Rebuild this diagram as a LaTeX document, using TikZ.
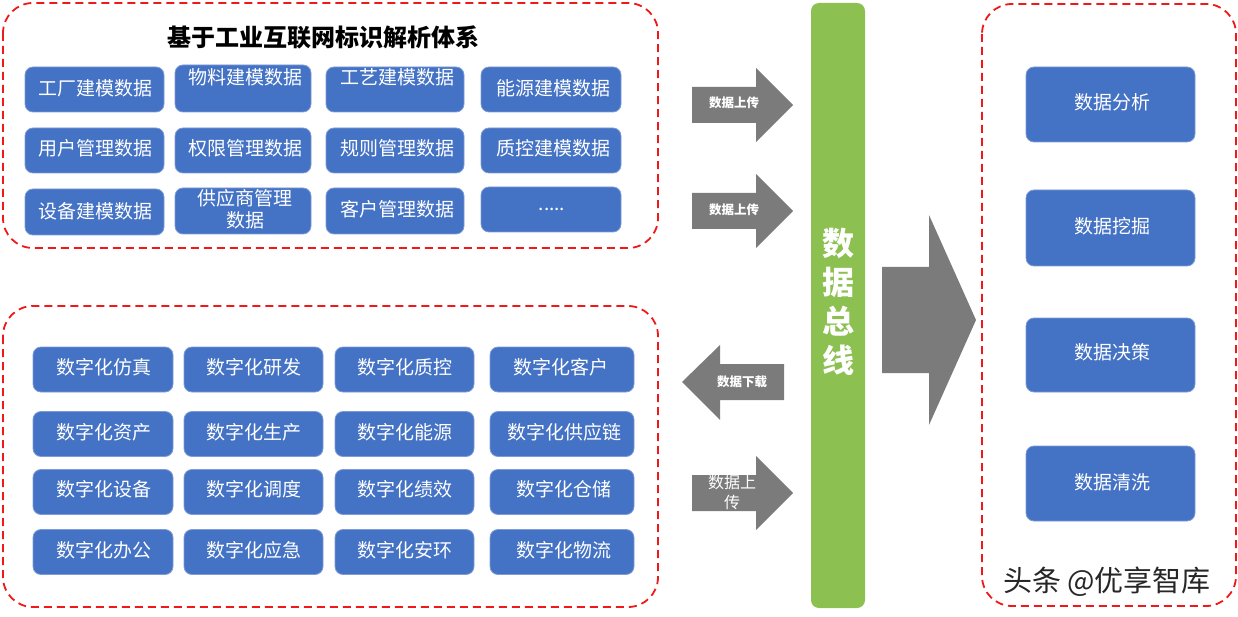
\documentclass[tikz,border=0pt]{standalone}
\usepackage{fontspec}
\newfontfamily\song{Noto Sans CJK SC}
\newfontfamily\cjk{Noto Sans CJK SC}
\definecolor{boxblue}{HTML}{4472C4}
\definecolor{boxedge}{HTML}{7D9BD6}
\definecolor{arrowgray}{HTML}{7B7B7B}
\definecolor{busgreen}{HTML}{8CC151}
\definecolor{dashred}{HTML}{F01818}
\begin{document}
\begin{tikzpicture}[x=1pt,y=-1pt,
  bluebox/.style={draw=boxedge, fill=boxblue, rounded corners=8pt, line width=0.8pt, inner sep=0pt},
  boxtext/.style={text=white, font=\song\fontsize{19}{22}\selectfont, align=center, inner sep=0pt},
  dashbox/.style={draw=dashred, dash pattern=on 8pt off 5pt, line width=1.8pt, rounded corners=30pt},
  grayarrow/.style={fill=arrowgray},
  arrowtext/.style={text=white, font=\cjk\bfseries\fontsize{12.5}{14}\selectfont, inner sep=0pt, align=center}
]
\useasboundingbox (0,0) rectangle (1238,617);

% dashed frames
\draw[dashbox] (3,3) rectangle (658,248);
\draw[dashbox] (3,306) rectangle (658,607);
\draw[dashbox] (982,4) rectangle (1236,606);

% title
\node[font=\song\bfseries\fontsize{24}{28}\selectfont, inner sep=0pt] (title) at (323,37) {基于工业互联网标识解析体系};

% top grid boxes
\node[bluebox, minimum width=139pt, minimum height=45pt] (a11) at (94.5,89.5) {};
\node[bluebox, minimum width=136pt, minimum height=47pt] (a12) at (243,88.5) {};
\node[bluebox, minimum width=138pt, minimum height=45pt] (a13) at (395,89.5) {};
\node[bluebox, minimum width=140pt, minimum height=45pt] (a14) at (551,89.5) {};
\node[bluebox, minimum width=139pt, minimum height=45pt] (a21) at (94.5,150.5) {};
\node[bluebox, minimum width=136pt, minimum height=45pt] (a22) at (243,150.5) {};
\node[bluebox, minimum width=138pt, minimum height=45pt] (a23) at (395,150.5) {};
\node[bluebox, minimum width=140pt, minimum height=45pt] (a24) at (551,150.5) {};
\node[bluebox, minimum width=139pt, minimum height=46pt] (a31) at (94.5,212) {};
\node[bluebox, minimum width=136pt, minimum height=46pt] (a32) at (243,211) {};
\node[bluebox, minimum width=138pt, minimum height=46pt] (a33) at (395,211) {};
\node[bluebox, minimum width=140pt, minimum height=45pt] (a34) at (551,209.5) {};

\node[boxtext] (a11t) at (95,88) {工厂建模数据};
\node[boxtext] (a12t) at (245,77) {物料建模数据};
\node[boxtext] (a13t) at (397,77) {工艺建模数据};
\node[boxtext] (a14t) at (553,88) {能源建模数据};
\node[boxtext] (a21t) at (95,148) {用户管理数据};
\node[boxtext] (a22t) at (245,148) {权限管理数据};
\node[boxtext] (a23t) at (397,148) {规则管理数据};
\node[boxtext] (a24t) at (553,148) {质控建模数据};
\node[boxtext] (a31t) at (95,211) {设备建模数据};
\node[boxtext] (a32t) at (245,209) {供应商管理\\数据};
\node[boxtext] (a33t) at (397,209) {客户管理数据};
\node[boxtext] (a34t) at (552,209) {.....};

% bottom grid boxes
\foreach \r/\cy in {1/369.5,2/434,3/492,4/552}{
  \node[bluebox, minimum width=140pt, minimum height=45pt] (b\r1) at (103,\cy) {};
  \node[bluebox, minimum width=139pt, minimum height=45pt] (b\r2) at (253.5,\cy) {};
  \node[bluebox, minimum width=139pt, minimum height=45pt] (b\r3) at (404.5,\cy) {};
  \node[bluebox, minimum width=144pt, minimum height=45pt] (b\r4) at (562,\cy) {};
}
\node[boxtext] (b11t) at (104,367) {数字化仿真};
\node[boxtext] (b12t) at (254,367) {数字化研发};
\node[boxtext] (b13t) at (405,367) {数字化质控};
\node[boxtext] (b14t) at (561,367) {数字化客户};
\node[boxtext] (b21t) at (104,432) {数字化资产};
\node[boxtext] (b22t) at (254,432) {数字化生产};
\node[boxtext] (b23t) at (405,432) {数字化能源};
\node[boxtext] (b24t) at (564,432) {数字化供应链};
\node[boxtext] (b31t) at (104,489) {数字化设备};
\node[boxtext] (b32t) at (254,489) {数字化调度};
\node[boxtext] (b33t) at (405,489) {数字化绩效};
\node[boxtext] (b34t) at (564,489) {数字化仓储};
\node[boxtext] (b41t) at (104,550) {数字化办公};
\node[boxtext] (b42t) at (254,550) {数字化应急};
\node[boxtext] (b43t) at (405,550) {数字化安环};
\node[boxtext] (b44t) at (564,550) {数字化物流};

% right boxes
\node[bluebox, minimum width=169pt, minimum height=75pt] (c1) at (1110.5,104.5) {};
\node[bluebox, minimum width=169pt, minimum height=76pt] (c2) at (1110.5,228) {};
\node[bluebox, minimum width=169pt, minimum height=74pt] (c3) at (1110.5,355) {};
\node[bluebox, minimum width=169pt, minimum height=75pt] (c4) at (1110.5,483.5) {};
\node[boxtext] (c1t) at (1112,102) {数据分析};
\node[boxtext] (c2t) at (1112,226) {数据挖掘};
\node[boxtext] (c3t) at (1112,352) {数据决策};
\node[boxtext] (c4t) at (1112,482) {数据清洗};

% bus
\node[fill=busgreen, rounded corners=8pt, minimum width=54pt, minimum height=605pt, inner sep=0pt] (bus) at (838,305.5) {};
\node[text=white, font=\song\bfseries\fontsize{32}{39}\selectfont, align=center, inner sep=0pt] (bust) at (838,302) {数\\据\\总\\线};

% gray arrows
\fill[grayarrow] (692,87) -- (756,87) -- (756,68) -- (793,105) -- (756,142) -- (756,123) -- (692,123) -- cycle;
\node[arrowtext] (up1) at (734,103) {数据上传};
\fill[grayarrow] (692,193) -- (756,193) -- (756,174) -- (793,211) -- (756,248) -- (756,229) -- (692,229) -- cycle;
\node[arrowtext] (up2) at (734,210) {数据上传};
\fill[grayarrow] (784,364) -- (720,364) -- (720,345) -- (682,382) -- (720,420) -- (720,400) -- (784,400) -- cycle;
\node[arrowtext] (down) at (742,382) {数据下载};
\fill[grayarrow] (692,475) -- (756,475) -- (756,456) -- (793,493) -- (756,530) -- (756,511) -- (692,511) -- cycle;
\node[text=white, font=\song\fontsize{16}{20}\selectfont, align=center, inner sep=0pt] (up3) at (732,492) {数据上\\传};
\fill[grayarrow] (882,267) -- (929,267) -- (929,215) -- (976,320) -- (929,425) -- (929,373) -- (882,373) -- cycle;

% watermark
\node[text=black!85, font=\cjk\fontsize{29}{32}\selectfont, inner sep=0pt] (wm) at (1107,582) {头条 @优享智库};
\end{tikzpicture}
\end{document}
